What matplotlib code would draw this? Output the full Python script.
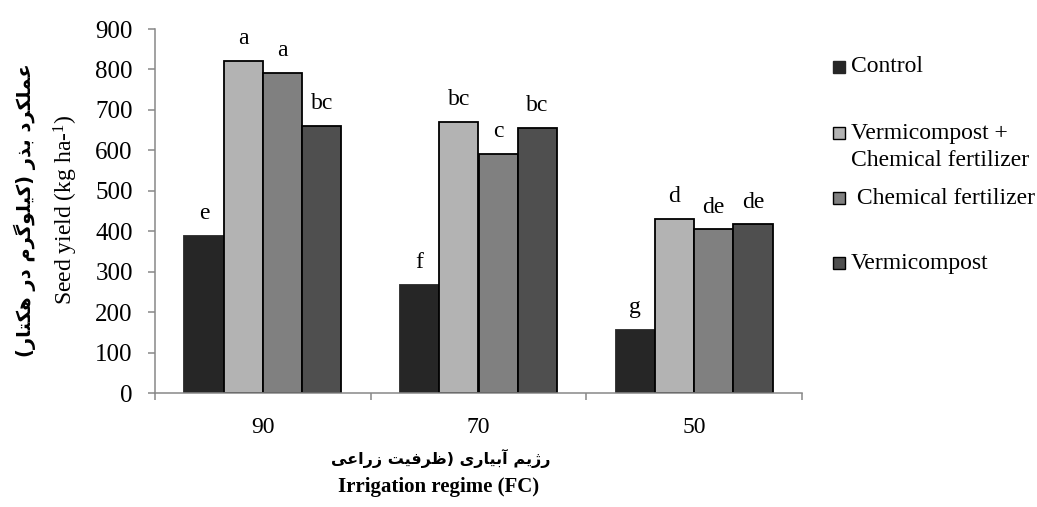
import matplotlib
matplotlib.use('Agg')
import matplotlib.pyplot as plt
from matplotlib.patches import Rectangle
import numpy as np

# ---------------- data ----------------
categories = ['90', '70', '50']
series_names = ['Control', 'Vermicompost +\nChemical fertilizer', ' Chemical fertilizer', 'Vermicompost']
control = [388, 268, 156]
vermi_chem = [821, 670, 430]
chem = [792, 591, 405]
vermi = [660, 656, 417]
letters_control = ['e', 'f', 'g']
letters_vermi_chem = ['a', 'bc', 'd']
letters_chem = ['a', 'c', 'de']
letters_vermi = ['bc', 'bc', 'de']
yticks = [0, 100, 200, 300, 400, 500, 600, 700, 800, 900]
ylabel_en = 'Seed yield (kg ha-$^{\\mathrm{1}}$)'
ylabel_fa = 'عملکرد بذر (کیلوگرم در هکتار)'
xlabel_fa = 'رژیم آبیاری (ظرفیت زراعی'
xlabel_en = 'Irrigation regime (FC)'

colors = ['#262626', '#b3b3b3', '#808080', '#4f4f4f']
edges = ['#262626', 'black', 'black', 'black']

# ------------- minimal Arabic/Persian shaping -------------
FORMS = {
    '\u0627': (0xFE8D, 0xFE8E, None, None),
    '\u0622': (0xFE81, 0xFE82, None, None),
    '\u0628': (0xFE8F, 0xFE90, 0xFE91, 0xFE92),
    '\u062A': (0xFE95, 0xFE96, 0xFE97, 0xFE98),
    '\u062F': (0xFEA9, 0xFEAA, None, None),
    '\u0630': (0xFEAB, 0xFEAC, None, None),
    '\u0631': (0xFEAD, 0xFEAE, None, None),
    '\u0632': (0xFEAF, 0xFEB0, None, None),
    '\u0698': (0xFB8A, 0xFB8B, None, None),
    '\u0638': (0xFEC5, 0xFEC6, 0xFEC7, 0xFEC8),
    '\u0639': (0xFEC9, 0xFECA, 0xFECB, 0xFECC),
    '\u0641': (0xFED1, 0xFED2, 0xFED3, 0xFED4),
    '\u06A9': (0xFB8E, 0xFB8F, 0xFB90, 0xFB91),
    '\u06AF': (0xFB92, 0xFB93, 0xFB94, 0xFB95),
    '\u0644': (0xFEDD, 0xFEDE, 0xFEDF, 0xFEE0),
    '\u0645': (0xFEE1, 0xFEE2, 0xFEE3, 0xFEE4),
    '\u0647': (0xFEE9, 0xFEEA, 0xFEEB, 0xFEEC),
    '\u0648': (0xFEED, 0xFEEE, None, None),
    '\u06CC': (0xFBFC, 0xFBFD, 0xFBFE, 0xFBFF),
}


def shape(word):
    out = []
    n = len(word)
    for i, ch in enumerate(word):
        if ch not in FORMS:
            out.append(ch)
            continue
        iso, fin, ini, med = FORMS[ch]
        prev = word[i - 1] if i > 0 else None
        nxt = word[i + 1] if i < n - 1 else None
        jp = prev in FORMS and FORMS[prev][2] is not None
        jn = (nxt in FORMS) and ini is not None
        if jp and jn:
            c = med
        elif jp:
            c = fin
        elif jn:
            c = ini
        else:
            c = iso
        out.append(chr(c))
    return ''.join(out)


def rtl(text):
    s = shape(text)[::-1]
    return s.translate(str.maketrans('()', ')('))


# ---------------- figure ----------------
plt.rcParams['font.family'] = ['Liberation Serif', 'DejaVu Sans']
plt.rcParams['mathtext.fontset'] = 'custom'
plt.rcParams['mathtext.rm'] = 'Liberation Serif'
plt.rcParams['mathtext.it'] = 'Liberation Serif:italic'
plt.rcParams['mathtext.bf'] = 'Liberation Serif:bold'

W, H = 1037, 507
fig = plt.figure(figsize=(W / 100, H / 100), dpi=100)
ax = fig.add_axes([155 / W, 1 - 393 / H, (802 - 155) / W, (393 - 29) / H])

x = np.arange(len(categories))
w = 0.182
series = [control, vermi_chem, chem, vermi]
letters = [letters_control, letters_vermi_chem, letters_chem, letters_vermi]
offsets = [-1.5, -0.5, 0.5, 1.5]
for s, vals, lets, off in zip(range(4), series, letters, offsets):
    ax.bar(x + off * w, vals, width=w, color=colors[s], edgecolor=edges[s],
           linewidth=1.3, zorder=3)
    for xi, v, t in zip(x + off * w, vals, lets):
        ax.annotate(t, (xi, v), xytext=(0, 12), textcoords='offset points',
                    ha='center', va='baseline', fontsize=17)

ax.set_xlim(-0.5, 2.5)
ax.set_ylim(0, 900)
for sp in ['top', 'right']:
    ax.spines[sp].set_visible(False)
for sp in ['left', 'bottom']:
    ax.spines[sp].set_color('#888888')
    ax.spines[sp].set_linewidth(1.1)
    ax.spines[sp].set_zorder(4)

ax.set_xticks([-0.5, 0.5, 1.5, 2.5])
ax.set_xticklabels([])
ax.set_xticks(x, minor=True)
ax.set_xticklabels(categories, minor=True)
ax.tick_params(axis='x', which='major', length=5, width=1.1, color='#888888', direction='out')
ax.tick_params(axis='x', which='minor', length=0, pad=17, labelsize=17)
ax.set_yticks(yticks)
ax.set_yticklabels([str(t) for t in yticks])
ax.tick_params(axis='y', length=5, width=1.1, color='#888888', pad=11, labelsize=18)

# axis titles
fig.text(66 / W, 1 - 210 / H, ylabel_en, rotation=90, ha='center', va='center', fontsize=17)
fig.text(25 / W, 1 - 210 / H, rtl(ylabel_fa), rotation=90, ha='center', va='center',
         fontsize=14, fontweight='bold', family='DejaVu Sans')
fig.text(441 / W, 1 - 458 / H, rtl(xlabel_fa),
         ha='center', va='center', fontsize=11.5, fontweight='bold', family='DejaVu Sans')
fig.text(439 / W, 1 - 487 / H, xlabel_en, ha='center', va='center', fontsize=15,
         fontweight='bold')

# legend (manual)
leg_y = [67, 133, 198, 263]
for s, name in enumerate(series_names):
    yc = leg_y[s]
    fig.patches.append(Rectangle((833 / W, 1 - (yc + 6) / H), 12 / W, 12 / H,
                                 transform=fig.transFigure, facecolor=colors[s],
                                 edgecolor=edges[s], linewidth=1.0))
    for k, line in enumerate(name.split('\n')):
        fig.text(851 / W, 1 - (yc + 27 * k) / H, line, ha='left', va='center', fontsize=17)

fig.savefig('out.png', dpi=100)
